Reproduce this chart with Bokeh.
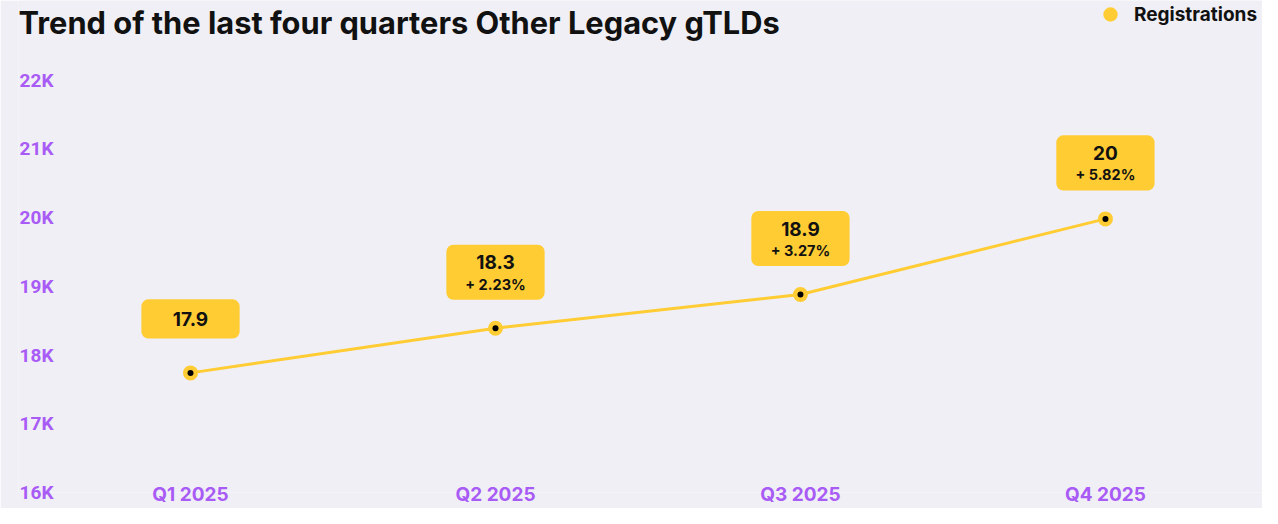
from bokeh.plotting import figure
from bokeh.models import Range1d, FixedTicker, Legend, LegendItem, Label, ColumnDataSource
from bokeh.core.properties import value
from bokeh.embed import file_html
from bokeh.resources import INLINE

# ---- data ----
quarters = ["Q1 2025", "Q2 2025", "Q3 2025", "Q4 2025"]
registrations = [17740, 18390, 18880, 19980]
value_labels = ["17.9", "18.3", "18.9", "20"]
change_labels = ["", "+ 2.23%", "+ 3.27%", "+ 5.82%"]
y_ticks = [16000, 17000, 18000, 19000, 20000, 21000, 22000]
y_tick_labels = ["16K", "17K", "18K", "19K", "20K", "21K", "22K"]
series_name = "Registrations"
title_text = "Trend of the last four quarters Other Legacy gTLDs"

# ---- styles ----
BG = "#EFEFF5"
YEL = "#FFCC33"
PURPLE = "#A95BF5"
INK = "#111111"
FONT = "Inter"

xs = list(range(len(quarters)))

p = figure(width=1262, height=508, output_backend="svg", toolbar_location=None,
           x_range=Range1d(-0.564, 3.515), y_range=Range1d(16000, 23157),
           min_border_left=18, min_border_right=0, min_border_top=0, min_border_bottom=13,
           background_fill_color=BG, border_fill_color=BG, outline_line_color=None)

p.grid.visible = False

# axes
p.yaxis.ticker = FixedTicker(ticks=y_ticks)
p.yaxis.major_label_overrides = dict(zip(y_ticks, y_tick_labels))
p.xaxis.ticker = FixedTicker(ticks=xs)
p.xaxis.major_label_overrides = dict(zip(xs, quarters))
for ax in (p.xaxis[0], p.yaxis[0]):
    ax.axis_line_color = None
    ax.major_tick_line_color = None
    ax.minor_tick_line_color = None
    ax.major_tick_out = 0
    ax.major_tick_in = 0
    ax.minor_tick_out = 0
    ax.major_label_text_color = PURPLE
    ax.major_label_text_font_style = "bold"
p.yaxis.major_label_text_font = "Roboto"
p.yaxis.major_label_text_font_size = "19px"
p.xaxis.major_label_text_font = FONT
p.xaxis.major_label_text_font_size = "19px"
p.yaxis.major_label_standoff = -35
p.xaxis.major_label_standoff = -10

src = ColumnDataSource(dict(x=xs, y=registrations, val=value_labels, chg=change_labels))

p.line("x", "y", source=src, line_color=YEL, line_width=3)
r = p.scatter("x", "y", source=src, size=15, fill_color=YEL, line_color=None)
p.scatter("x", "y", source=src, size=6, fill_color="black", line_color=None)

# value boxes
two = [i for i, c in enumerate(change_labels) if c]
one = [i for i, c in enumerate(change_labels) if not c]
src2 = ColumnDataSource(dict(x=[xs[i] for i in two], y=[registrations[i] for i in two],
                             val=[value_labels[i] for i in two], chg=[change_labels[i] for i in two]))
src1 = ColumnDataSource(dict(x=[xs[i] for i in one], y=[registrations[i] for i in one],
                             val=[value_labels[i] for i in one]))

box_common = dict(text=value(" "), text_font_size="1px", text_align="center", text_baseline="middle",
                  background_fill_color=YEL, border_radius=7, text_color=YEL)
p.text("x", "y", source=src2, y_offset=-56, padding=(49, 27), **box_common)
p.text("x", "y", source=src1, y_offset=-54, padding=(49, 19), **box_common)

txt_common = dict(text_align="center", text_baseline="middle", text_color=INK,
                  text_font=value(FONT), text_font_style="bold")
p.text("x", "y", source=src2, text="val", y_offset=-66, text_font_size="19px", **txt_common)
p.text("x", "y", source=src2, text="chg", y_offset=-44, text_font_size="14.5px", **txt_common)
p.text("x", "y", source=src1, text="val", y_offset=-54, text_font_size="19px", **txt_common)

# title
p.add_layout(Label(x=0, y=470, x_units="screen", y_units="screen", text=title_text,
                   text_font=FONT, text_font_size="30.8px", text_font_style="bold",
                   text_color=INK, text_baseline="alphabetic"))

# legend
legend = Legend(items=[LegendItem(label=series_name, renderers=[r])],
                location=(1074, 460), orientation="horizontal",
                glyph_width=36, glyph_height=36, label_standoff=6,
                padding=0, margin=0, spacing=0,
                border_line_color=None, background_fill_alpha=0,
                label_text_font=FONT, label_text_font_style="bold",
                label_text_font_size="19px", label_text_color=INK)
p.add_layout(legend, "center")

open("out.html", "w").write(file_html(p, INLINE))
